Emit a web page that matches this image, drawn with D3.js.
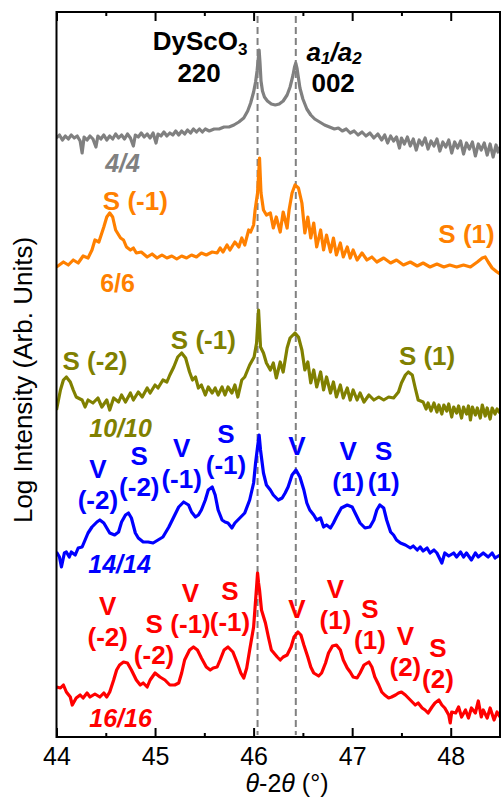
<!DOCTYPE html>
<html>
<head>
<meta charset="utf-8">
<script src="https://cdn.jsdelivr.net/npm/d3@7"></script>
<style>
  body { margin: 0; background: #fff; }
  svg { display: block; font-family: "Liberation Sans", Arial, sans-serif; }
</style>
</head>
<body>
<div id="chart-area"></div>
<script>
// Scans: [theta-2theta (deg), log intensity (arb. units, offset)]
const scan4 = [[44.00,59.9],[44.03,60.2],[44.06,59.7],[44.09,60.1],[44.12,59.8],[44.15,60.2],[44.18,59.9],[44.21,60.1],[44.24,59.6],[44.26,58.4],[44.28,60.0],[44.31,59.7],[44.34,60.1],[44.37,59.8],[44.40,59.0],[44.42,60.1],[44.45,59.8],[44.48,60.2],[44.51,59.7],[44.54,60.1],[44.57,59.8],[44.60,60.3],[44.63,59.9],[44.66,60.2],[44.69,59.8],[44.72,60.3],[44.75,59.9],[44.78,59.1],[44.80,60.2],[44.83,60.0],[44.86,60.4],[44.89,60.0],[44.92,60.3],[44.95,59.9],[44.98,60.4],[45.01,59.4],[45.03,60.3],[45.06,60.1],[45.09,60.5],[45.12,60.1],[45.15,60.4],[45.18,60.2],[45.21,60.6],[45.24,60.2],[45.27,60.6],[45.30,60.3],[45.33,60.7],[45.36,60.4],[45.39,60.8],[45.42,60.5],[45.45,60.8],[45.48,60.5],[45.51,60.8],[45.55,60.6],[45.60,60.8],[45.65,60.8],[45.70,61.0],[45.75,61.0],[45.80,61.2],[45.85,61.5],[45.90,61.9],[45.94,62.6],[45.97,63.4],[46.00,64.5],[46.02,65.5],[46.035,66.6],[46.047,67.8],[46.056,68.7],[46.065,67.4],[46.075,65.6],[46.09,64.6],[46.11,64.0],[46.14,63.6],[46.18,63.3],[46.22,63.2],[46.26,63.3],[46.30,63.6],[46.34,64.2],[46.37,65.0],[46.40,66.2],[46.415,67.0],[46.428,67.4],[46.44,66.9],[46.455,65.9],[46.47,64.9],[46.50,63.8],[46.54,62.8],[46.58,62.2],[46.62,61.8],[46.67,61.5],[46.72,61.2],[46.77,61.0],[46.82,60.8],[46.86,60.9],[46.90,60.6],[46.94,60.8],[46.98,60.4],[47.02,60.6],[47.06,60.2],[47.10,60.5],[47.14,60.1],[47.18,60.4],[47.22,59.9],[47.26,60.3],[47.30,59.7],[47.33,60.2],[47.36,59.4],[47.39,60.1],[47.42,59.6],[47.45,60.0],[47.48,58.9],[47.50,59.9],[47.53,59.3],[47.56,60.0],[47.59,59.1],[47.62,59.8],[47.65,58.7],[47.68,59.7],[47.71,59.2],[47.74,59.9],[47.77,58.8],[47.80,59.6],[47.83,59.1],[47.86,59.8],[47.89,58.6],[47.92,59.5],[47.95,59.0],[47.98,59.7],[48.01,58.4],[48.04,59.5],[48.07,58.9],[48.10,59.6],[48.13,58.3],[48.16,59.4],[48.19,58.8],[48.22,59.5],[48.25,58.1],[48.28,59.3],[48.31,58.7],[48.34,59.4],[48.37,58.2],[48.40,59.3],[48.43,58.0],[48.46,59.2],[48.48,58.5],[48.50,59.0]];

const scan6 = [[44.00,47.0],[44.07,47.5],[44.12,47.2],[44.17,47.7],[44.22,47.4],[44.27,48.1],[44.32,47.9],[44.36,48.7],[44.39,49.7],[44.43,49.5],[44.48,51.0],[44.51,52.0],[44.54,52.4],[44.57,52.0],[44.60,50.7],[44.65,49.9],[44.68,49.7],[44.71,49.0],[44.75,48.7],[44.78,48.9],[44.81,48.4],[44.86,48.5],[44.92,48.0],[44.97,48.3],[45.02,47.9],[45.07,48.2],[45.12,47.9],[45.17,48.1],[45.22,47.8],[45.27,48.1],[45.32,47.9],[45.37,48.2],[45.42,48.0],[45.47,48.4],[45.52,48.2],[45.58,48.5],[45.63,48.4],[45.66,48.9],[45.69,48.5],[45.73,49.2],[45.76,48.7],[45.81,49.5],[45.85,49.0],[45.88,49.9],[45.91,49.2],[45.95,50.7],[45.97,50.5],[46.00,51.2],[46.015,52.7],[46.04,54.4],[46.06,57.9],[46.075,54.4],[46.10,52.7],[46.13,52.2],[46.17,52.4],[46.20,50.9],[46.23,52.0],[46.27,50.5],[46.30,52.5],[46.34,50.9],[46.36,52.7],[46.39,54.4],[46.42,55.2],[46.455,54.9],[46.49,53.4],[46.52,50.4],[46.55,52.0],[46.58,49.9],[46.61,51.4],[46.64,49.0],[46.68,50.7],[46.71,48.7],[46.74,50.2],[46.78,48.5],[46.81,49.9],[46.84,48.2],[46.88,49.4],[46.91,48.0],[46.95,49.0],[46.98,47.9],[47.01,48.7],[47.05,47.7],[47.10,48.4],[47.15,47.7],[47.20,48.0],[47.25,47.5],[47.32,47.9],[47.39,47.4],[47.45,47.7],[47.52,47.2],[47.59,47.5],[47.66,47.1],[47.72,47.4],[47.79,47.0],[47.86,47.3],[47.93,47.0],[47.99,47.2],[48.06,47.0],[48.13,47.2],[48.20,47.0],[48.27,47.5],[48.32,47.9],[48.35,48.0],[48.38,47.5],[48.42,46.9],[48.47,46.5],[48.50,46.3]];

const scan10 = [[44.00,32.7],[44.04,34.7],[44.07,35.7],[44.10,36.0],[44.14,35.5],[44.17,34.7],[44.20,34.0],[44.26,33.7],[44.29,33.0],[44.32,33.7],[44.37,33.4],[44.42,33.9],[44.46,33.0],[44.51,33.7],[44.54,32.7],[44.58,33.9],[44.63,33.5],[44.66,34.2],[44.70,33.5],[44.75,34.4],[44.78,33.7],[44.83,34.5],[44.87,34.0],[44.92,34.9],[44.95,34.4],[45.00,35.2],[45.03,34.9],[45.08,35.7],[45.12,35.5],[45.15,36.2],[45.19,37.0],[45.23,38.0],[45.27,38.4],[45.31,37.9],[45.35,36.5],[45.38,35.7],[45.41,36.0],[45.44,34.9],[45.47,35.2],[45.51,34.2],[45.54,35.0],[45.58,34.4],[45.61,34.9],[45.64,34.2],[45.68,35.0],[45.71,34.2],[45.74,35.0],[45.78,34.4],[45.81,35.2],[45.84,34.0],[45.88,35.7],[45.91,36.0],[45.96,37.2],[46.005,38.0],[46.03,39.4],[46.05,42.7],[46.07,39.0],[46.10,38.4],[46.13,37.4],[46.17,36.7],[46.20,37.4],[46.23,35.9],[46.27,37.5],[46.30,36.5],[46.34,38.9],[46.37,39.9],[46.42,40.4],[46.455,40.0],[46.49,38.7],[46.52,36.7],[46.55,37.5],[46.58,35.4],[46.61,36.7],[46.64,35.0],[46.68,36.5],[46.71,34.7],[46.74,36.0],[46.78,34.4],[46.81,35.5],[46.84,34.0],[46.88,35.2],[46.91,33.9],[46.95,34.9],[46.98,33.7],[47.01,34.7],[47.05,33.7],[47.08,34.4],[47.12,33.5],[47.17,34.2],[47.22,33.7],[47.27,34.0],[47.32,33.7],[47.37,34.0],[47.42,33.9],[47.47,34.5],[47.50,35.4],[47.54,36.2],[47.57,36.5],[47.61,36.2],[47.64,34.9],[47.67,33.7],[47.72,33.5],[47.75,32.8],[47.77,33.4],[47.80,32.6],[47.83,33.4],[47.86,32.5],[47.88,33.2],[47.91,32.3],[47.93,33.2],[47.96,32.6],[47.98,33.3],[48.01,32.0],[48.03,33.0],[48.06,32.4],[48.08,33.1],[48.11,31.9],[48.13,33.0],[48.16,32.3],[48.18,33.1],[48.20,31.7],[48.22,33.0],[48.25,32.2],[48.27,32.9],[48.30,31.9],[48.32,33.2],[48.35,32.1],[48.37,32.9],[48.40,31.8],[48.42,32.9],[48.45,32.3],[48.47,32.8],[48.50,32.4]];

const scan14 = [[44.00,18.5],[44.03,18.0],[44.05,17.0],[44.08,18.4],[44.10,18.5],[44.13,18.0],[44.15,18.5],[44.19,18.2],[44.22,18.9],[44.26,19.0],[44.29,19.7],[44.32,20.4],[44.36,21.0],[44.41,21.5],[44.44,21.7],[44.48,21.4],[44.51,20.9],[44.54,20.4],[44.59,20.2],[44.63,20.5],[44.66,21.5],[44.70,22.2],[44.73,22.4],[44.76,21.9],[44.80,20.4],[44.83,19.9],[44.88,19.5],[44.93,19.5],[44.98,19.4],[45.03,19.7],[45.08,20.0],[45.14,21.0],[45.19,22.0],[45.24,23.0],[45.29,23.5],[45.34,23.2],[45.37,22.5],[45.41,22.0],[45.44,22.2],[45.47,22.7],[45.51,23.7],[45.54,24.7],[45.58,25.0],[45.61,24.2],[45.64,22.7],[45.68,21.7],[45.71,21.5],[45.74,21.4],[45.78,20.9],[45.81,21.4],[45.86,21.9],[45.91,22.4],[45.96,23.7],[46.00,25.4],[46.02,27.4],[46.04,29.0],[46.056,30.2],[46.07,28.7],[46.10,26.4],[46.13,25.2],[46.17,24.7],[46.20,24.2],[46.25,23.7],[46.29,23.9],[46.32,24.4],[46.35,25.0],[46.39,26.2],[46.43,26.7],[46.47,26.0],[46.51,24.7],[46.54,23.4],[46.57,22.7],[46.61,22.2],[46.64,21.7],[46.68,21.9],[46.71,21.0],[46.74,21.2],[46.78,20.9],[46.81,21.4],[46.84,22.0],[46.89,22.9],[46.95,23.2],[47.00,23.0],[47.03,22.4],[47.08,21.4],[47.13,20.9],[47.18,21.0],[47.22,21.7],[47.25,22.7],[47.28,23.2],[47.32,22.9],[47.35,21.7],[47.39,20.5],[47.42,20.2],[47.45,19.7],[47.49,19.4],[47.54,19.2],[47.59,18.9],[47.62,19.1],[47.66,18.7],[47.69,19.0],[47.72,18.6],[47.76,18.9],[47.79,18.4],[47.83,18.7],[47.86,18.4],[47.91,17.4],[47.94,18.4],[47.98,18.1],[48.03,18.4],[48.06,18.0],[48.10,18.5],[48.13,18.0],[48.16,18.4],[48.21,17.7],[48.25,18.4],[48.28,18.0],[48.33,18.4],[48.38,18.0],[48.42,18.4],[48.45,17.9],[48.50,18.2]];

const scan16 = [[44.00,5.0],[44.04,4.9],[44.07,5.2],[44.10,4.5],[44.14,4.0],[44.16,3.2],[44.20,3.9],[44.24,4.2],[44.27,3.9],[44.31,4.4],[44.34,4.0],[44.39,4.3],[44.44,4.0],[44.48,4.4],[44.51,4.0],[44.54,4.5],[44.58,5.7],[44.61,6.7],[44.64,7.2],[44.68,7.5],[44.72,7.4],[44.76,6.7],[44.81,5.7],[44.85,5.2],[44.88,5.4],[44.92,5.0],[44.95,5.7],[45.00,6.4],[45.05,6.0],[45.10,5.7],[45.15,5.2],[45.20,5.2],[45.24,5.4],[45.27,6.4],[45.30,7.7],[45.35,8.7],[45.39,9.0],[45.43,8.7],[45.47,7.9],[45.52,7.0],[45.56,6.7],[45.59,6.9],[45.63,7.0],[45.66,7.7],[45.70,8.7],[45.74,9.0],[45.79,8.5],[45.83,7.5],[45.87,6.4],[45.90,5.9],[45.93,6.9],[45.96,8.7],[46.00,11.0],[46.015,13.0],[46.03,15.0],[46.04,16.4],[46.05,15.4],[46.06,14.7],[46.08,12.7],[46.12,11.4],[46.15,10.0],[46.18,8.7],[46.24,8.0],[46.27,7.7],[46.30,8.0],[46.34,8.2],[46.38,9.0],[46.41,10.0],[46.45,10.5],[46.48,10.2],[46.51,9.2],[46.55,8.0],[46.58,7.0],[46.61,6.4],[46.66,6.1],[46.69,6.4],[46.73,7.4],[46.76,8.4],[46.80,9.1],[46.84,9.2],[46.88,8.7],[46.91,7.7],[46.95,6.9],[46.98,6.5],[47.01,6.0],[47.05,5.9],[47.08,6.4],[47.12,7.2],[47.17,7.5],[47.20,7.0],[47.23,6.0],[47.27,5.2],[47.30,4.5],[47.33,4.2],[47.37,3.9],[47.40,4.0],[47.44,4.2],[47.47,4.4],[47.50,4.5],[47.54,4.2],[47.57,3.9],[47.61,3.5],[47.64,3.2],[47.67,3.4],[47.71,2.9],[47.74,2.7],[47.77,2.4],[47.81,3.0],[47.84,3.4],[47.88,3.7],[47.91,3.2],[47.94,2.9],[47.98,2.2],[47.995,1.4],[48.01,2.5],[48.05,2.4],[48.08,3.0],[48.11,2.0],[48.15,2.7],[48.18,1.9],[48.21,2.9],[48.25,2.4],[48.28,3.6],[48.31,2.0],[48.33,2.7],[48.37,1.9],[48.40,2.9],[48.44,1.7],[48.47,2.5],[48.50,2.0]];

// Thickness labels and colours
const samples = ["4/4", "6/6", "10/10", "14/14", "16/16"];
const colors = ["#808080", "#ff8000", "#808000", "#0000ff", "#ff0000"];
// label anchor for each sample name [theta, intensity]
const sampleTags = [[44.67, 56.5], [44.62, 44.5], [44.65, 30.0], [44.64, 16.4], [44.65, 1.0]];

// Reference peak positions (dashed lines)
const refPeaks = [46.04, 46.428];

// Satellite peak labels: [line 1, line 2, theta, intensity]
const peaks6 = [["S (-1)", "", 44.80, 52.7], ["S (1)", "", 48.16, 49.4]];
const peaks10 = [["S (-2)", "", 44.39, 36.7], ["S (-1)", "", 45.49, 38.8], ["S (1)", "", 47.76, 37.2]];
const peaks14 = [["V", "(-2)", 44.42, 25.9], ["S", "(-2)", 44.84, 27.2], ["V", "(-1)", 45.27, 28.0], ["S", "(-1)", 45.72, 29.4], ["V", "", 46.44, 28.2], ["V", "(1)", 46.96, 27.7], ["S", "(1)", 47.32, 27.7]];
const peaks16 = [["V", "(-2)", 44.52, 12.2], ["S", "(-2)", 44.99, 10.4], ["V", "(-1)", 45.36, 13.5], ["S", "(-1)", 45.76, 13.7], ["V", "", 46.44, 11.9], ["V", "(1)", 46.83, 13.9], ["S", "(1)", 47.18, 11.9], ["V", "(2)", 47.54, 9.2], ["S", "(2)", 47.87, 8.0]];

const majorTicks = [44, 45, 46, 47, 48];
const minorTicks = [44.5, 45.5, 46.5, 47.5, 48.5];

const scans = [scan4, scan6, scan10, scan14, scan16];
const peakSets = [[], peaks6, peaks10, peaks14, peaks16];

const margin = { top: 12, right: 1, bottom: 60, left: 56.5 };
const width = 501 - margin.left - margin.right;
const height = 797 - margin.top - margin.bottom;

const svg = d3.select("#chart-area")
    .append("svg")
    .attr("width", 501)
    .attr("height", 797);

const g = svg.append("g")
    .attr("transform", `translate(${margin.left},${margin.top})`);

const x = d3.scaleLinear().domain([44, 48.5]).range([0, width]);
const y = d3.scaleLinear().domain([0, 72.5]).range([height, 0]);

svg.append("defs").append("clipPath")
    .attr("id", "plot-clip")
    .append("rect")
    .attr("width", width)
    .attr("height", height);

// Dashed reference lines
g.selectAll(".ref")
    .data(refPeaks)
    .enter()
    .append("line")
    .attr("class", "ref")
    .attr("x1", d => x(d))
    .attr("x2", d => x(d))
    .attr("y1", 4)
    .attr("y2", height - 2)
    .attr("stroke", "#808080")
    .attr("stroke-width", 2)
    .attr("stroke-dasharray", "7,4");

// Curves
const line = d3.line()
    .x(d => x(d[0]))
    .y(d => y(d[1]));

g.append("g")
    .attr("clip-path", "url(#plot-clip)")
    .selectAll("path")
    .data(scans)
    .enter()
    .append("path")
    .attr("d", d => line(d))
    .attr("fill", "none")
    .attr("stroke", (d, i) => colors[i])
    .attr("stroke-width", 3.2)
    .attr("stroke-linejoin", "round");

// Axes (ticks inward)
const bottomAxis = d3.axisBottom(x).tickValues(majorTicks).tickSize(-9).tickPadding(10).tickFormat(d3.format("d"));
g.append("g")
    .attr("class", "bottom axis")
    .attr("transform", `translate(0,${height})`)
    .call(bottomAxis)
    .call(a => a.select(".domain").remove())
    .selectAll("text")
    .attr("font-size", "25px")
    .attr("font-family", "Liberation Sans, Arial, sans-serif")
    .attr("fill", "#000");

g.append("g")
    .attr("transform", `translate(0,${height})`)
    .call(d3.axisBottom(x).tickValues(minorTicks).tickSize(-4).tickFormat(""))
    .call(a => a.select(".domain").remove());

g.append("g")
    .call(d3.axisTop(x).tickValues(majorTicks).tickSize(-9).tickFormat(""))
    .call(a => a.select(".domain").remove());

g.append("g")
    .call(d3.axisTop(x).tickValues(minorTicks).tickSize(-4).tickFormat(""))
    .call(a => a.select(".domain").remove());

g.selectAll(".tick line").attr("stroke", "#000").attr("stroke-width", 2);

// Frame
g.append("rect")
    .attr("width", width)
    .attr("height", height)
    .attr("fill", "none")
    .attr("stroke", "#000")
    .attr("stroke-width", 2);

// Axis labels
const xLabel = svg.append("text")
    .attr("x", 287)
    .attr("y", 792)
    .attr("font-size", "25px")
    .attr("text-anchor", "middle");
xLabel.append("tspan").attr("font-style", "italic").text("θ");
xLabel.append("tspan").text("-2");
xLabel.append("tspan").attr("font-style", "italic").text("θ");
xLabel.append("tspan").text(" (°)");

svg.append("text")
    .attr("transform", "rotate(-90)")
    .attr("x", -380)
    .attr("y", 32)
    .attr("font-size", "26px")
    .attr("text-anchor", "middle")
    .text("Log Intensity (Arb. Units)");

// Substrate / film peak labels
const sub = g.append("text")
    .attr("x", x(45.457))
    .attr("y", y(68.7))
    .attr("font-size", "26px")
    .attr("font-weight", "bold")
    .attr("text-anchor", "middle");
sub.append("tspan").text("DyScO");
sub.append("tspan").attr("font-size", "17px").attr("dy", 5).text("3");

g.append("text")
    .attr("x", x(45.447))
    .attr("y", y(65.5))
    .attr("font-size", "26px")
    .attr("font-weight", "bold")
    .attr("text-anchor", "middle")
    .text("220");

const film = g.append("text")
    .attr("x", x(46.817))
    .attr("y", y(67.6))
    .attr("font-size", "26px")
    .attr("font-weight", "bold")
    .attr("font-style", "italic")
    .attr("text-anchor", "middle");
film.append("tspan").text("a");
film.append("tspan").attr("font-size", "17px").attr("dy", 3).text("1");
film.append("tspan").attr("dy", -3).text("/a");
film.append("tspan").attr("font-size", "17px").attr("dy", 3).text("2");

g.append("text")
    .attr("x", x(46.807))
    .attr("y", y(64.5))
    .attr("font-size", "26px")
    .attr("font-weight", "bold")
    .attr("text-anchor", "middle")
    .text("002");

// Sample tags
g.selectAll(".tag")
    .data(samples)
    .enter()
    .append("text")
    .attr("class", "tag")
    .attr("x", (d, i) => x(sampleTags[i][0]))
    .attr("y", (d, i) => y(sampleTags[i][1]))
    .attr("font-size", "25px")
    .attr("font-weight", "bold")
    .attr("font-style", (d, i) => i === 1 ? "normal" : "italic")
    .attr("text-anchor", "middle")
    .attr("fill", (d, i) => colors[i])
    .text(d => d);

// Satellite labels
peakSets.forEach((set, i) => {
    set.forEach(p => {
        const t = g.append("text")
            .attr("x", x(p[2]))
            .attr("y", y(p[3]))
            .attr("font-size", "26px")
            .attr("font-weight", "bold")
            .attr("text-anchor", "middle")
            .attr("fill", colors[i]);
        t.append("tspan").attr("x", x(p[2])).text(p[0]);
        if (p[1]) t.append("tspan").attr("x", x(p[2])).attr("dy", "1.2em").text(p[1]);
    });
});
</script>
</body>
</html>
